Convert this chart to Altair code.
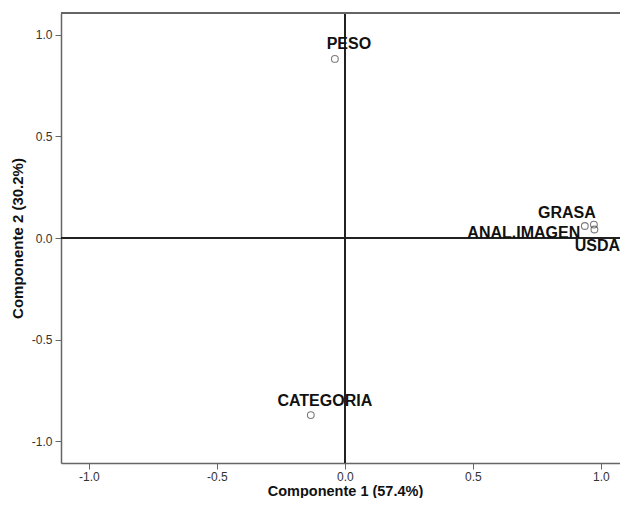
import altair as alt
import pandas as pd

# ---- data ----
variables = ["PESO", "CATEGORIA", "GRASA", "ANAL.IMAGEN", "USDA"]
comp1 = [-0.039, -0.133, 0.973, 0.9375, 0.975]
comp2 = [0.882, -0.872, 0.066, 0.059, 0.042]
tick_values = [-1.0, -0.5, 0.0, 0.5, 1.0]
x_title = "Componente 1 (57.4%)"
y_title = "Componente 2 (30.2%)"

# label placement (pixels, relative to each point)
label_dx = [14, 14, -27, -61, 3]
label_dy = [-10, -9, -7, 12, 22]

df = pd.DataFrame({"var": variables, "c1": comp1, "c2": comp2})

W, H = 559, 450
FONT = "Liberation Sans"
AXIS_COL = "#666666"

label_expr = "replace(format(datum.value, '.1f'), '\u2212', '-')"

x_scale = alt.Scale(domain=[-1.109, 1.075], nice=False, zero=False)
y_scale = alt.Scale(domain=[-1.108, 1.108], nice=False, zero=False)

x_axis = alt.Axis(values=tick_values, labelExpr=label_expr, grid=False,
                  domainColor=AXIS_COL, domainWidth=1.5, tickColor=AXIS_COL,
                  tickSize=6, tickWidth=1, labelFont=FONT, labelFontSize=12,
                  labelColor="#333333", labelPadding=2, title=x_title,
                  titleFont=FONT, titleFontSize=14.5, titleFontWeight="bold",
                  titleColor="#111111", titleX=284, titleY=32,
                  titleBaseline="alphabetic", titleAlign="center")
y_axis = alt.Axis(values=tick_values, labelExpr=label_expr, grid=False,
                  domainColor=AXIS_COL, domainWidth=1.5, tickColor=AXIS_COL,
                  tickSize=6, tickWidth=1, labelFont=FONT, labelFontSize=12,
                  labelColor="#333333", labelPadding=3, title=y_title,
                  titleFont=FONT, titleFontSize=15, titleFontWeight="bold",
                  titleColor="#111111", titleX=-43.5, titleY=H / 2,
                  titleBaseline="middle", titleAngle=270)

base = alt.Chart(df)

points = base.mark_point(shape="circle", filled=False, size=46,
                         stroke="#444444", strokeWidth=1.1).encode(
    x=alt.X("c1:Q", scale=x_scale, axis=x_axis),
    y=alt.Y("c2:Q", scale=y_scale, axis=y_axis),
)

vline = base.mark_rule(color="#222222", strokeWidth=1.5).encode(x=alt.datum(0))
hline = base.mark_rule(color="#222222", strokeWidth=1.5).encode(y=alt.datum(0))
top_border = base.mark_rule(color=AXIS_COL, strokeWidth=1.5).encode(
    x=alt.value(0), x2=alt.value(W), y=alt.value(0))

labels = []
for name, dx, dy in zip(variables, label_dx, label_dy):
    labels.append(
        base.transform_filter(alt.datum.var == name)
        .mark_text(font=FONT, fontSize=16, fontWeight="bold", color="#111111",
                   align="center", baseline="alphabetic", dx=dx, dy=dy)
        .encode(x="c1:Q", y="c2:Q", text="var:N")
    )

chart = alt.layer(vline, hline, top_border, points, *labels).properties(
    width=W, height=H,
    autosize=alt.AutoSizeParams(type="none"),
    padding={"left": 53, "top": 5, "right": 0, "bottom": 35},
).configure_view(strokeWidth=0).configure(background="white")

chart.save("out.html", embed_options={"renderer": "svg", "actions": False})
